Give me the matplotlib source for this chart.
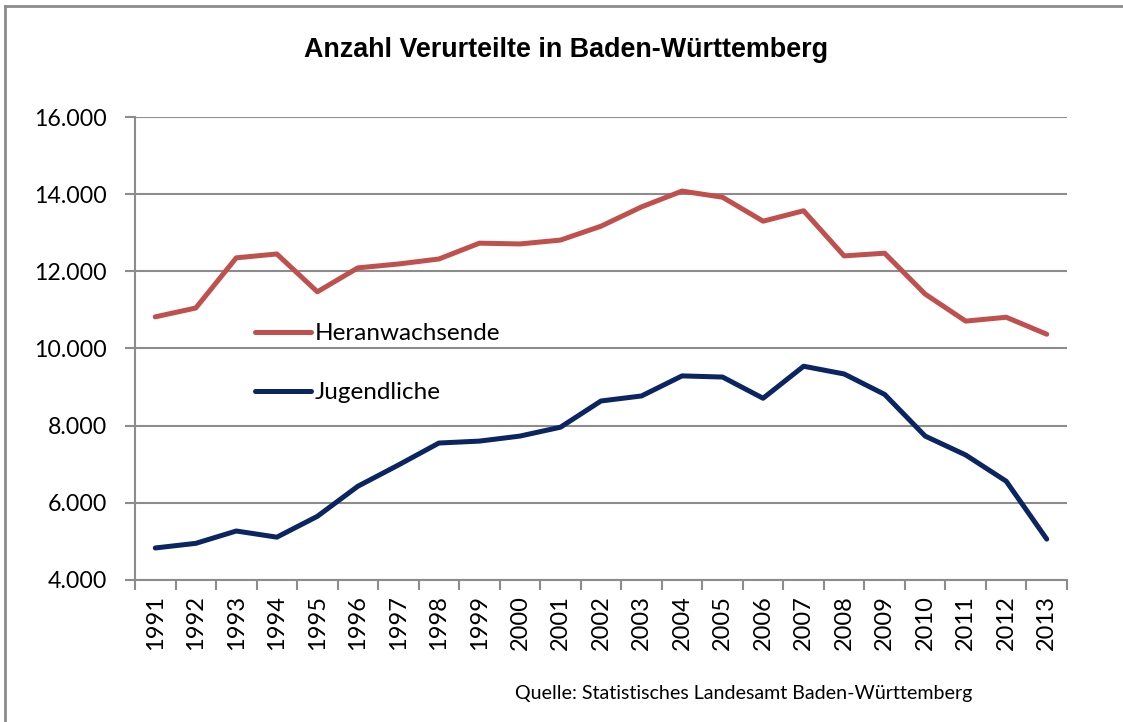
import matplotlib
matplotlib.use('Agg')
import matplotlib.pyplot as plt
from matplotlib.lines import Line2D
from matplotlib.ticker import FuncFormatter, FixedLocator
import numpy as np

# Anzahl Verurteilte in Baden-Wuerttemberg
jahre = list(range(1991, 2014))
heranwachsende = [10820, 11050, 12350, 12450, 11470, 12090, 12190, 12320, 12730, 12710,
                  12810, 13170, 13670, 14080, 13920, 13300, 13570, 12400, 12470, 11410,
                  10710, 10810, 10370]
jugendliche = [4830, 4950, 5270, 5110, 5650, 6430, 6980, 7550, 7600, 7730,
               7960, 8640, 8770, 9290, 9260, 8710, 9540, 9340, 8810, 7730,
               7240, 6560, 5060]

grau = '#8c8c8c'
rot = '#c0504d'
blau = '#0b2462'

fig = plt.figure(figsize=(11.23, 7.22), dpi=100)
ax = fig.add_axes([135 / 1123, 1 - 580 / 722, 932 / 1123, 463 / 722])

x = np.arange(len(jahre))
ax.plot(x, heranwachsende, color=rot, lw=3.6, solid_capstyle='round', label='Heranwachsende')
ax.plot(x, jugendliche, color=blau, lw=3.6, solid_capstyle='round', label='Jugendliche')

ax.set_xlim(-0.5, len(jahre) - 0.5)
ax.set_ylim(4000, 16000)
ax.set_yticks(range(4000, 16001, 2000))
ax.yaxis.set_major_formatter(FuncFormatter(lambda v, p: '{:,.0f}'.format(v).replace(',', '.')))
ax.grid(axis='y', color=grau, lw=1.5)
ax.set_axisbelow(True)

# category ticks between the years, labels in the middle
ax.xaxis.set_major_locator(FixedLocator(np.arange(-0.5, len(jahre), 1.0)))
ax.xaxis.set_major_formatter(FuncFormatter(lambda v, p: ''))
ax.xaxis.set_minor_locator(FixedLocator(x))
ax.set_xticklabels(jahre, minor=True, rotation=90)
ax.tick_params(axis='x', which='minor', length=0, pad=11, labelsize=17)
ax.tick_params(axis='x', which='major', length=7, width=1.5, color=grau)
ax.tick_params(axis='y', length=7, width=1.5, color=grau, labelsize=16.7, pad=13)
for lab in ax.get_xticklabels(minor=True) + ax.get_yticklabels():
    lab.set_fontfamily('Lato')

for s in ['top', 'right']:
    ax.spines[s].set_visible(False)
for s in ['left', 'bottom']:
    ax.spines[s].set_color(grau)
    ax.spines[s].set_linewidth(1.5)

leg = ax.legend(loc='center left', bbox_to_anchor=(0.105, 0.468), frameon=False,
                handlelength=2.3, handletextpad=0.15, labelspacing=1.55,
                prop={'family': 'Lato', 'size': 17.5})

fig.text(566 / 1123, 1 - 50 / 722, 'Anzahl Verurteilte in Baden-Württemberg',
         ha='center', va='center', fontsize=19.4, fontweight='bold', family='Liberation Sans')
fig.text(744 / 1123, 1 - 693 / 722, 'Quelle: Statistisches Landesamt Baden-Württemberg',
         ha='center', va='center', fontsize=14.1, family='Lato')

# chart border (left and top visible)
fig.add_artist(Line2D([5 / 1123, 5 / 1123], [0, 1 - 6 / 722], color=grau, lw=2, transform=fig.transFigure))
fig.add_artist(Line2D([5 / 1123, 1], [1 - 6 / 722, 1 - 6 / 722], color=grau, lw=2, transform=fig.transFigure))

fig.savefig('out.png', dpi=100)
